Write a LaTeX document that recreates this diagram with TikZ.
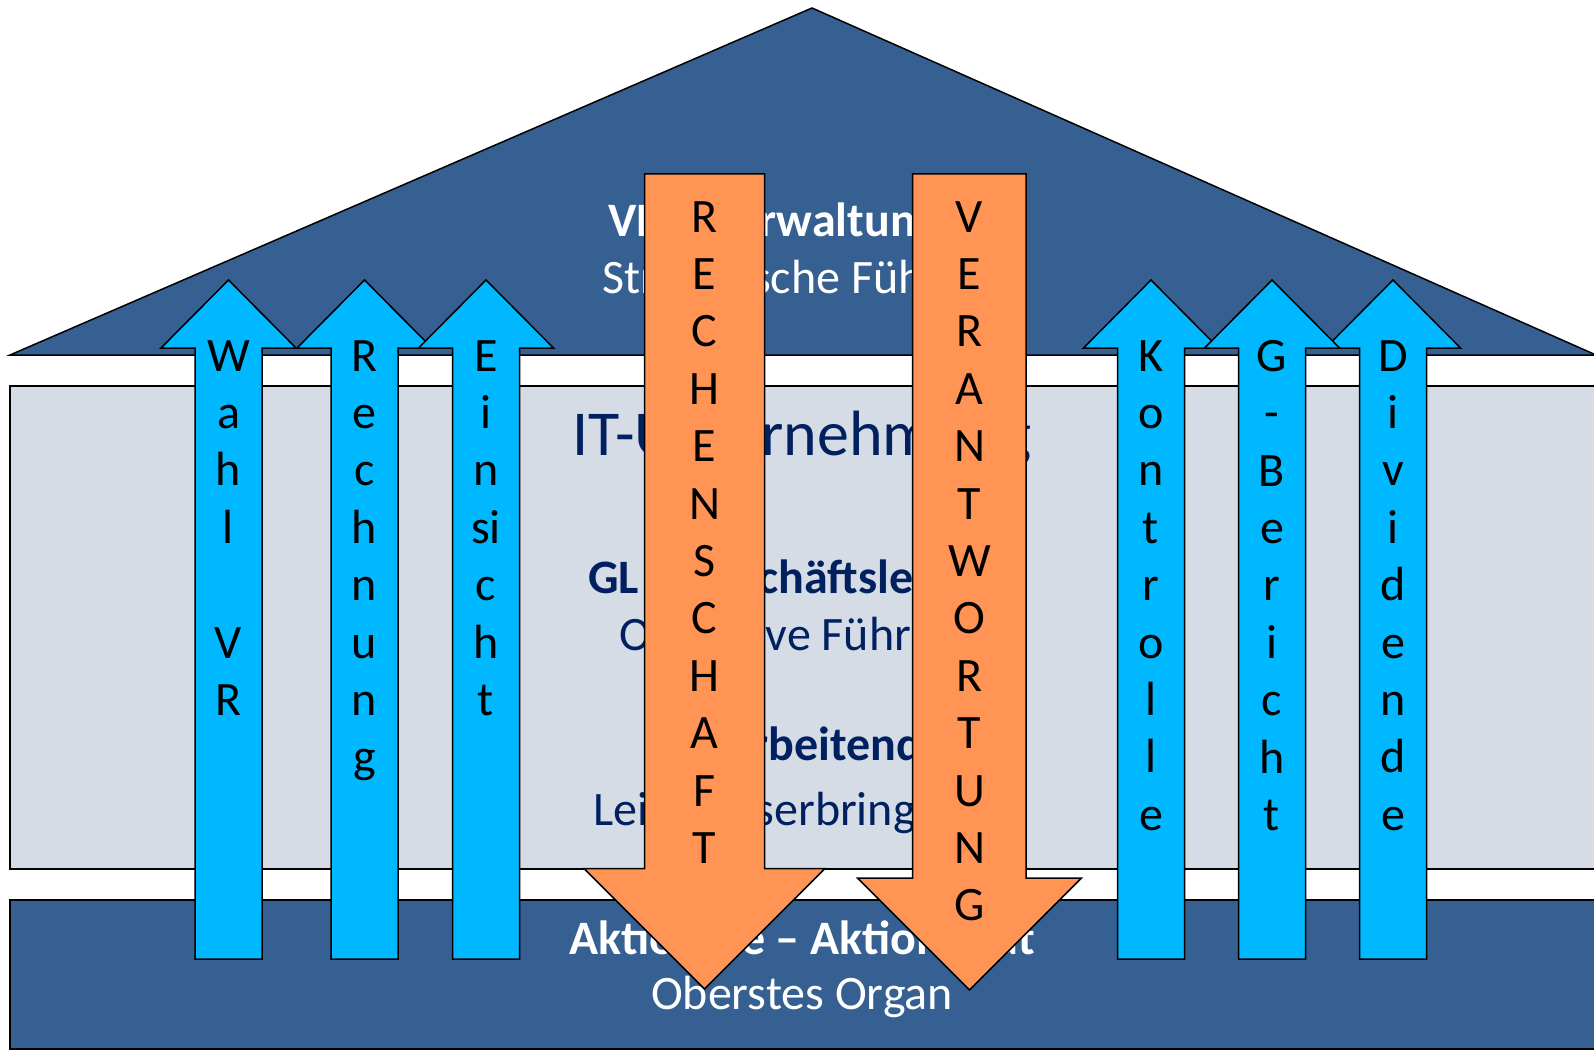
\documentclass[tikz,border=0pt]{standalone}
\usepackage{fontspec}
\setmainfont{Carlito}

\definecolor{roofblue}{HTML}{376092}
\definecolor{bandgray}{HTML}{D6DCE5}
\definecolor{navy}{HTML}{002060}
\definecolor{skyblue}{HTML}{00B8FF}
\definecolor{apricot}{HTML}{FF9455}

\begin{document}
\begin{tikzpicture}[x=1pt,y=-1pt,
    part/.style={draw=black,line width=1.5pt},
    uparrow/.style={draw=black,line width=1.5pt,fill=skyblue},
    downarrow/.style={draw=black,line width=1.5pt,fill=apricot},
    letters/.style={align=center,anchor=north,inner sep=0pt,font=\fontsize{48}{57.4}\selectfont},
    title/.style={anchor=base,inner sep=0pt,font=\fontsize{48}{56}\selectfont}]
        \useasboundingbox (0,0) rectangle (1594,1051);

        % roof, body and base of the house
        \draw[part,fill=roofblue] (10,355) -- (812,8) -- (1596,355) -- cycle;
        \draw[part,fill=bandgray] (10,386) rectangle (1620,869);
        \draw[part,fill=roofblue] (10,900) rectangle (1620,1049);

        \node[title,text=white] (vr) at (811,236.7) {\bfseries VR – Verwaltungsrat};
        \node[title,text=white] (strat) at (808,293) {Strategische Führung};
        \node[title,text=navy,font=\fontsize{64}{70}\selectfont] (itu) at (802,455) {IT-Unternehmung};
        \node[title,text=navy] (gl) at (802,593.3) {\bfseries GL – Geschäftsleitung};
        \node[title,text=navy] (oper) at (802,650) {Operative Führung};
        \node[title,text=navy] (ma) at (802,760) {\bfseries Mitarbeitende};
        \node[title,text=navy] (leist) at (791,825) {Leistungserbringung};
        \node[title,text=white] (aktion) at (802,954) {\bfseries Aktionäre – Aktionariat};
        \node[title,text=white] (organ) at (802,1009.3) {Oberstes Organ};

        % upward arrows
        \foreach \cx/\name/\txt in {228.5/wahl/{W\\a\\h\\l\\\mbox{}\\V\\R},
                364.5/rechnung/{R\\e\\c\\h\\n\\u\\n\\g},
                486/einsicht/{E\\i\\n\\si\\c\\h\\t},
                1151/kontrolle/{K\\o\\n\\t\\r\\o\\l\\l\\e},
                1393/dividende/{D\\i\\v\\i\\d\\e\\n\\d\\e},
                1272/gbericht/{G\\-\\B\\e\\r\\i\\c\\h\\t}}
        {
            \draw[uparrow] (\cx-33.5,959) -- (\cx-33.5,348) -- (\cx-67.5,348) -- (\cx,280)
                -- (\cx+67.5,348) -- (\cx+33.5,348) -- (\cx+33.5,959) -- cycle;
            \node[letters] (\name) at (\cx,340) {\txt};
        }

        % downward arrows
        \draw[downarrow] (644.5,174) -- (764.5,174) -- (764.5,868.5) -- (825,868.5)
            -- (704.5,989) -- (584,868.5) -- (644.5,868.5) -- cycle;
        \node[letters] (rechenschaft) at (704.5,201) {R\\E\\C\\H\\E\\N\\S\\C\\H\\A\\F\\T};

        \draw[downarrow] (912.7,174) -- (1026,174) -- (1026,878) -- (1081.5,878)
            -- (969.5,990) -- (857.5,878) -- (912.7,878) -- cycle;
        \node[letters] (verantwortung) at (969.5,201) {V\\E\\R\\A\\N\\T\\W\\O\\R\\T\\U\\N\\G};

\end{tikzpicture}
\end{document}
